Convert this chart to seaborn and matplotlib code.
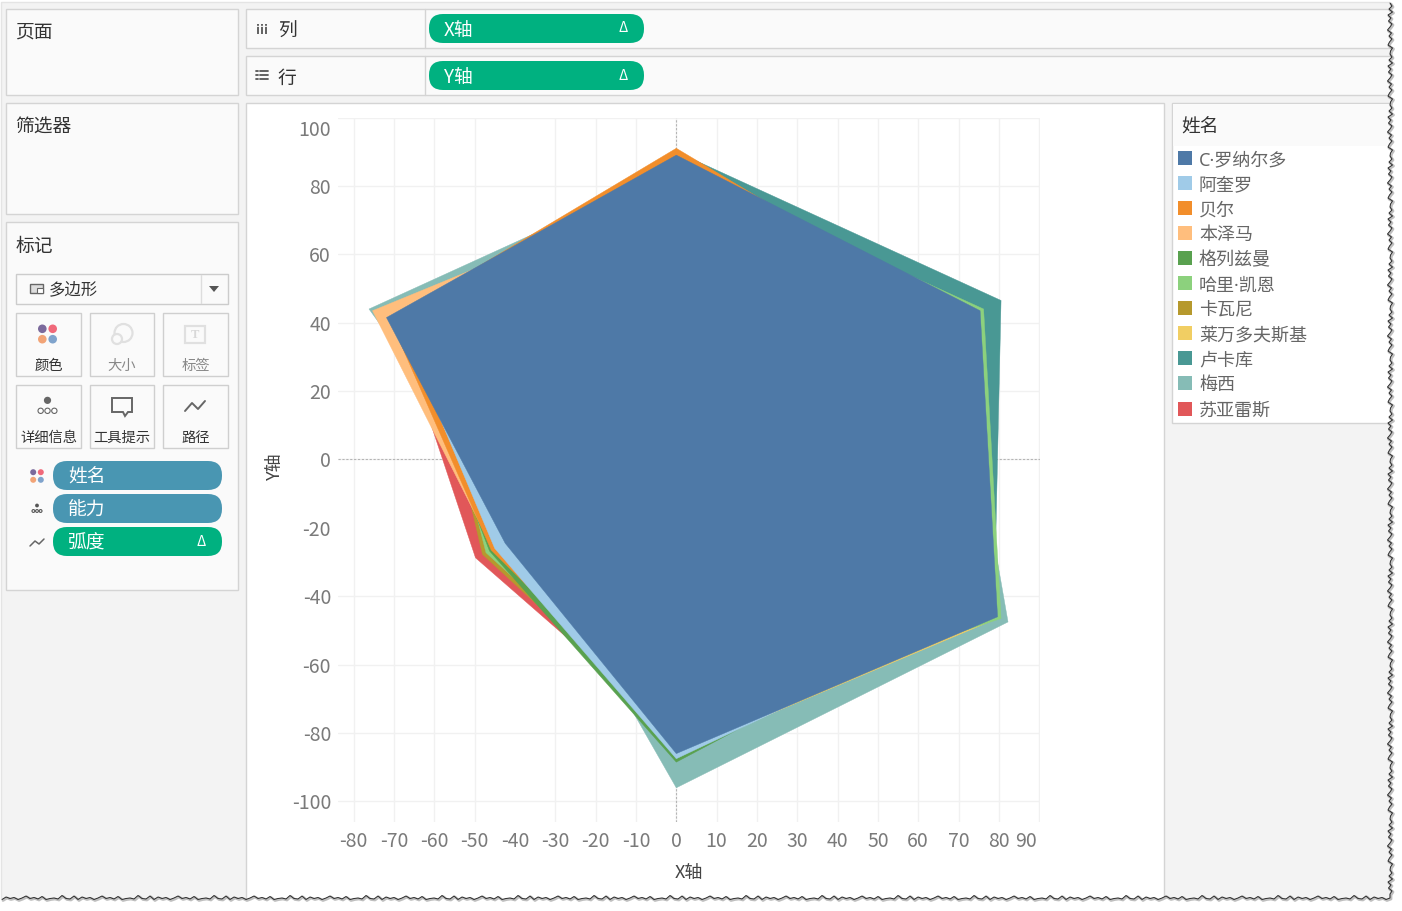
import numpy as np
import pandas as pd
import seaborn as sns
import matplotlib.pyplot as plt
from matplotlib.patches import Rectangle, FancyBboxPatch, Circle, Polygon
from matplotlib.transforms import ScaledTranslation

sns.set_theme(style="white")
plt.rcParams['font.family'] = ['Noto Sans CJK SC', 'DejaVu Sans']
plt.rcParams['axes.unicode_minus'] = False

# Data: radius of each player on the six ability spokes
arc_deg = [90, 30, -30, -90, -150, 150]
names = ['C·罗纳尔多', '阿奎罗', '贝尔', '本泽马', '格列兹曼', '哈里·凯恩',
         '卡瓦尼', '莱万多夫斯基', '卢卡库', '梅西', '苏亚雷斯']
colors = ['#4E79A7', '#A0CBE8', '#F28E2B', '#FFBE7D', '#59A14F', '#8CD17D',
          '#B6992D', '#F1CE63', '#499894', '#86BCB6', '#E15759']
ronaldo = [89, 87, 92, 86, 49, 83]
aguero = [85, 80, 89, 87.5, 52, 79]
bale = [91, 82, 85, 80, 53, 82]
benzema = [80, 78, 80, 75, 52.5, 87]
griezmann = [80, 80, 85, 88.5, 53.5, 78]
kane = [85, 88, 93, 78, 54.5, 70]
cavani = [80, 75, 80, 80, 55.5, 70]
lewandowski = [80, 80, 92.5, 86, 50, 70]
lukaku = [90, 93, 91, 78, 45, 75]
messi = [85, 80, 95, 96, 42, 88]
suarez = [70, 70, 75, 80, 57.5, 80]
radii = [ronaldo, aguero, bale, benzema, griezmann, kane, cavani,
         lewandowski, lukaku, messi, suarez]
x_ticks = [-80, -70, -60, -50, -40, -30, -20, -10, 10, 20, 30, 40, 50, 60, 70, 80, 90]
y_ticks = [100, 80, 60, 40, 20, -20, -40, -60, -80, -100]

W, H = 1402, 911
fig = plt.figure(figsize=(W / 100, H / 100), dpi=100, facecolor='white')

# Tableau window drawn in pixel coordinates
ui = fig.add_axes([0, 0, 1, 1], zorder=0)
ui.set_xlim(0, W)
ui.set_ylim(H, 0)
ui.axis('off')

GREEN = '#00B180'
BLUE = '#4996B2'
LINE = '#d4d4d4'
DARK = '#333333'
GREY = '#666666'


def box(x0, y0, x1, y1, fc='#fafafa', ec=LINE, lw=1.0):
    ui.add_patch(Rectangle((x0 - 0.5, y0 - 0.5), x1 - x0, y1 - y0, fc=fc, ec=ec, lw=lw))


def label(x, y, s, size=13.5, color=DARK, ha='left', **kw):
    ui.text(x, y + 2, s, fontsize=size, color=color, ha=ha, va='center', **kw)


def pill(x0, y0, x1, y1, s, color, delta=False):
    ui.add_patch(FancyBboxPatch((x0, y0), x1 - x0, y1 - y0,
                                boxstyle='round,pad=0,rounding_size=14',
                                fc=color, ec='none'))
    label(x0 + 15, (y0 + y1) / 2, s, color='white')
    if delta:
        label(x1 - 21, (y0 + y1) / 2 - 2, 'Δ', size=10, color='white', ha='center')


def dots4(cx, cy, d, r):
    for dx, dy, c in [(-d, -d, '#7b6a9c'), (d, -d, '#f0697a'),
                      (-d, d, '#f2a477'), (d, d, '#7fa3cc')]:
        ui.add_patch(Circle((cx + dx, cy + dy), r, fc=c, ec='none'))


def dots_detail(cx, cy, k, color='#666666'):
    ui.add_patch(Circle((cx, cy - 3.5 * k), 1.9 * k, fc=color, ec='none'))
    for dx in (-3.6 * k, 0, 3.6 * k):
        ui.add_patch(Circle((cx + dx, cy + 2 * k), 1.4 * k, fc='white', ec=color, lw=0.8))


ui.add_patch(Rectangle((1, 2), W, H, fc='#f3f3f3', ec='#e4e4e4', lw=1))

# left column
box(6, 9, 238, 95)
label(15.5, 30, '页面')
box(6, 103, 238, 214)
label(15.5, 124, '筛选器')
box(6, 222, 238, 590)
label(15.5, 244, '标记')

# shelves
for y0, y1, txt in [(9, 48, '列'), (56, 95, '行')]:
    box(246, y0, 1400, y1)
    ui.plot([425, 425], [y0, y1], color=LINE, lw=1)
    label(278, (y0 + y1) / 2 + 1, txt)
for x in (257.5, 261.5, 265.5):
    ui.plot([x, x], [24, 34], color='#555555', lw=1.3, ls=(0, (1, 0.6, 5, 0)))
for y in (71, 75, 79):
    ui.plot([256, 258], [y, y], color='#555555', lw=1.3)
    ui.plot([260, 268], [y, y], color='#555555', lw=1.3)
pill(429, 14, 644, 43, 'X轴', GREEN, True)
pill(429, 61, 644, 90, 'Y轴', GREEN, True)

# marks card
box(16, 274, 228, 304, fc='#fafafa', ec='#cccccc')
ui.plot([201, 201], [275, 303], color='#dddddd', lw=1)
ui.add_patch(Polygon([[209, 286], [219, 286], [214, 292]], fc='#555555', ec='none'))
ui.add_patch(Rectangle((30, 284), 13, 9, fc='#dddddd', ec='#666666', lw=1))
ui.add_patch(Rectangle((37, 288), 6, 5, fc='white', ec='#666666', lw=0.8))
label(49, 288, '多边形', size=11.8)

cells = [(16, 81), (90, 154), (163, 228)]
for y0, y1, row in [(313, 376, [('颜色', DARK), ('大小', '#888888'), ('标签', '#888888')]),
                    (385, 448, [('详细信息', DARK), ('工具提示', DARK), ('路径', DARK)])]:
    for (x0, x1), (txt, col) in zip(cells, row):
        box(x0, y0, x1, y1, fc='#fafafa', ec='#cfcfcf')
        label((x0 + x1) / 2, y1 - 12, txt, size=10.3, color=col, ha='center')

dots4(47.5, 334, 5.2, 4.3)
ui.add_patch(Circle((123.5, 333), 9, fc='none', ec='#e0e0e0', lw=1.6))
ui.add_patch(Circle((117, 339), 5, fc='#fafafa', ec='#e0e0e0', lw=1.6))
ui.add_patch(Rectangle((185, 326), 20, 17, fc='none', ec='#e0e0e0', lw=1.6))
ui.text(195, 334.5, 'T', fontsize=9, color='#d8d8d8', ha='center', va='center',
        family='Liberation Serif', weight='bold')
dots_detail(47.5, 407, 1.9)
ui.add_patch(Polygon([[112, 398], [132, 398], [132, 412], [128, 412], [125, 416],
                      [123, 412], [112, 412]], fc='none', ec='#666666', lw=1.4))
ui.plot([185, 192, 198, 205], [411, 403, 409, 401], color='#666666', lw=1.4)

pill(53, 461, 222, 490, '姓名', BLUE)
pill(53, 494, 222, 523, '能力', BLUE)
pill(53, 527, 222, 556, '弧度', GREEN, True)
dots4(37, 476, 3.8, 3)
dots_detail(37, 509, 1.0, '#555555')
ui.plot([30, 35, 39, 44], [546, 541, 544, 539], color='#666666', lw=1.1)

# chart pane and legend pane
box(246, 103, 1164, 905, fc='white')
box(1172, 103, 1400, 423, fc='white')
ui.add_patch(Rectangle((1173, 104), 226, 42, fc='#fafafa', ec='none'))
label(1181, 125, '姓名')
for i, (name, col) in enumerate(zip(names, colors)):
    cy = 158.3 + 25.02 * i
    ui.add_patch(Rectangle((1178, cy - 7), 14, 14, fc=col, ec='none'))
    # the narrow middle dot only exists in the latin font
    fam = ['Noto Sans', 'Noto Sans CJK SC'] if '·' in name else None
    label(1199, cy, name, size=13, color=GREY, family=fam)

# chart
ax = fig.add_axes([338 / W, 1 - 822 / H, 702 / W, 704.5 / H], zorder=1)
ax.patch.set_alpha(0)

rows = []
for name, r in zip(names, radii):
    for step, a in enumerate(arc_deg + arc_deg[:1]):
        rad = r[step % 6]
        rows.append({'name': name, 'step': step,
                     'x': rad * np.cos(np.deg2rad(a)), 'y': rad * np.sin(np.deg2rad(a))})
df = pd.DataFrame(rows)

# first legend entry sits on top, so draw from the end
for name, col in zip(names[::-1], colors[::-1]):
    sub = df[df['name'] == name]
    ax.fill(sub['x'], sub['y'], color=col, lw=0, zorder=3)
    sns.lineplot(data=sub, x='x', y='y', sort=False, estimator=None, color=col,
                 lw=0.3, zorder=3, ax=ax)

ax.set_xlim(-83.9, 90.2)
ax.set_ylim(-106, 100)
ax.set_xticks(x_ticks + [0])
ax.set_yticks(y_ticks + [0])
ax.grid(True, color='#f1f1f1', lw=1, zorder=0)
ax.set_axisbelow(True)
for tick in ax.xaxis.get_major_ticks() + ax.yaxis.get_major_ticks():
    if tick.get_loc() == 0:
        tick.gridline.set_visible(False)
ax.axhline(0, color='#b5b5b5', lw=0.8, ls=(0, (2, 1.5)), zorder=1)
ax.axvline(0, color='#b5b5b5', lw=0.8, ls=(0, (2, 1.5)), zorder=1)
ax.tick_params(axis='x', length=0, labelsize=14, labelcolor='#7a7a7a', pad=6.8)
ax.tick_params(axis='y', length=0, labelsize=14, labelcolor='#7a7a7a', pad=5)
sns.despine(ax=ax, left=True, bottom=True)
ax.set_xlabel('X轴', fontsize=13, color='#444444', labelpad=8.5)
ax.set_ylabel('Y轴', fontsize=13, color='#444444', va='center')
ax.yaxis.set_label_coords(-0.09, 0.505)
for lab, val in zip(ax.get_xticklabels(), ax.get_xticks()):
    if val == 90:
        lab.set_ha('right')
        lab.set_transform(lab.get_transform() + ScaledTranslation(-2 / 100, 0, fig.dpi_scale_trans))
for lab, val in zip(ax.get_yticklabels(), ax.get_yticks()):
    if val == 100:
        lab.set_va('top')
        lab.set_transform(lab.get_transform() + ScaledTranslation(0, -2 / 100, fig.dpi_scale_trans))

# torn paper edge on the right and bottom
top = fig.add_axes([0, 0, 1, 1], zorder=5)
top.set_xlim(0, W)
top.set_ylim(H, 0)
top.axis('off')
jag_r = [0, 2, -1, 2.5, -2, 1, -1.5, 2, 0, -2.5, 1.5, -1, 2, -0.5, -2, 2.5, 0.5]
jag_b = [0, 1.5, -0.5, 0.5, -1, 1.5, -2, 1, 0.5, -2.5, 1, 0, 0.5, 1.5, -1.5, 1, -0.5, 0.5, -2]
right_edge = [[1390 + jag_r[i % len(jag_r)], y] for i, y in enumerate(range(3, 897, 3))]
bottom_edge = [[x, 898 + jag_b[i % len(jag_b)]] for i, x in enumerate(range(1390, 0, -4))]
edge = right_edge + bottom_edge
top.add_patch(Polygon(edge + [[-5, 898], [-5, 920], [1410, 920], [1410, -5], [1390, -5]],
                      fc='white', ec='none'))
xs, ys = zip(*edge)
top.plot(np.array(xs) + 1, np.array(ys) + 1, color='#000000', lw=2, alpha=0.25)
top.plot(xs, ys, color='#2a2a2a', lw=0.7)

fig.savefig('out.png', dpi=100)
